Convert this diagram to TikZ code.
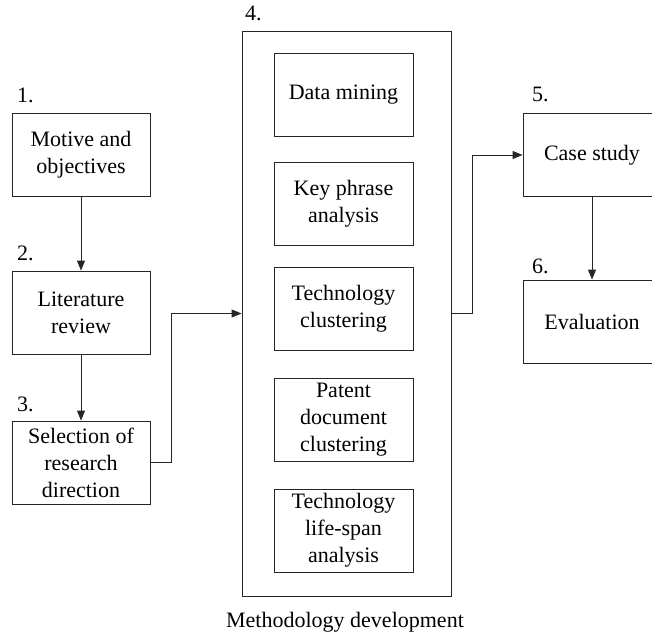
\documentclass[tikz,border=0pt]{standalone}
\usepackage{fontspec}
\setmainfont{Liberation Serif}
\usetikzlibrary{arrows.meta}
\begin{document}
\begin{tikzpicture}[x=1pt,y=-1pt,
  font=\fontsize{22}{27}\selectfont,
  stepbox/.style={draw=black!85, line width=0.9pt, inner sep=0pt,
    minimum width=138pt, minimum height=83pt, align=center},
  subbox/.style={stepbox, minimum width=139pt},
  numlabel/.style={anchor=base west, inner sep=0pt},
  arr/.style={draw=black!85, line width=0.9pt,
    -{Triangle[length=10pt,width=8pt]}}]
\useasboundingbox (0,0) rectangle (652,639);
\clip (0,0) rectangle (652,639);

% left column: steps 1 to 3
\node[stepbox] (b1) at (81,155) {Motive and\\objectives};
\node[stepbox] (b2) at (81,312.5) {Literature\\review};
\node[stepbox] (b3) at (81,462.5) {Selection of\\research\\direction};
\node[numlabel] (l1) at (17,103) {1.};
\node[numlabel] (l2) at (17,260) {2.};
\node[numlabel] (l3) at (17,411) {3.};

% step 4: methodology development
\node[draw=black!85, line width=0.9pt, minimum width=209pt,
  minimum height=565pt, inner sep=0pt] (big) at (346.5,313.5) {};
\node[numlabel] (l4) at (245,21) {4.};
\node[subbox] (s1) at (343.5,95) {Data mining};
\node[subbox] (s2) at (343.5,204) {Key phrase\\analysis};
\node[subbox] (s3) at (343.5,308.5) {Technology\\clustering};
\node[subbox] (s4) at (343.5,420) {Patent\\document\\clustering};
\node[subbox] (s5) at (343.5,530.5) {Technology\\life-span\\analysis};
\node[anchor=base, inner sep=0pt] (cap) at (345,627) {Methodology development};

% right column: steps 5 and 6
\node[stepbox] (b5) at (592,155) {Case study};
\node[stepbox] (b6) at (592,321.5) {Evaluation};
\node[numlabel] (l5) at (532,102) {5.};
\node[numlabel] (l6) at (532,273) {6.};

% connectors
\draw[arr] (b1.south) -- (b2.north);
\draw[arr] (b2.south) -- (b3.north);
\draw[arr] (b3.east) -- ++(21,0) |- (big.west);
\draw[arr] (big.east) -- ++(21,0) |- (b5.west);
\draw[arr] (b5.south) -- (b6.north);
\end{tikzpicture}
\end{document}
